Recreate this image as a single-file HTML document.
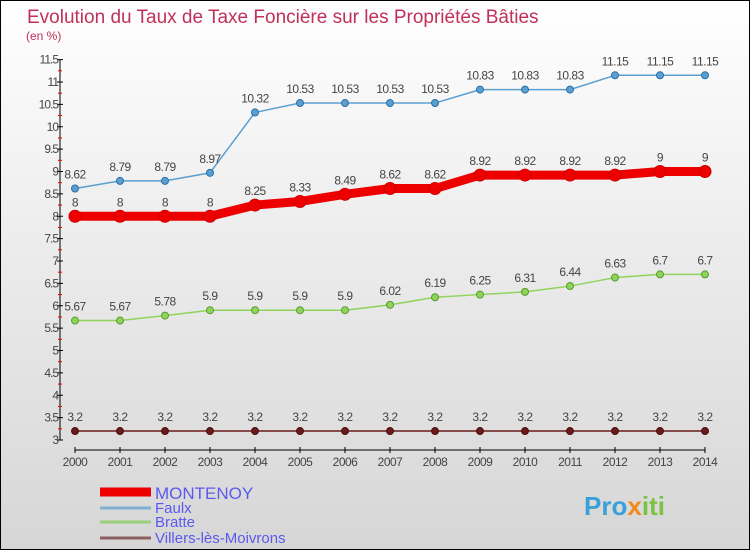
<!DOCTYPE html>
<html><head><meta charset="utf-8"><style>
body{margin:0}
#c{width:750px;height:550px;position:relative;overflow:hidden;background:linear-gradient(#ffffff,#f2f2f2 30%,#d6d6d6);font-family:"Liberation Sans",sans-serif}
svg{position:absolute;left:0;top:0}
</style></head><body>
<div id="c">
<svg id="s" width="750" height="550">
<rect x="0.5" y="0.5" width="749" height="549" fill="none" stroke="#000"/>
<text x="27" y="23" font-size="19" fill="#c0305a">Evolution du Taux de Taxe Foncière sur les Propriétés Bâties</text>
<text x="26" y="40" font-size="12" fill="#c0305a">(en %)</text>
<text x="584" y="515" font-size="26" font-weight="bold" fill="#3aa0d8">Pro<tspan fill="#f08a1e">x</tspan><tspan fill="#7cc242">iti</tspan></text>
</svg>
</div>
<script>
const years=[2000,2001,2002,2003,2004,2005,2006,2007,2008,2009,2010,2011,2012,2013,2014];
const yTicks=[3,3.5,4,4.5,5,5.5,6,6.5,7,7.5,8,8.5,9,9.5,10,10.5,11,11.5];
const montenoy=[8,8,8,8,8.25,8.33,8.49,8.62,8.62,8.92,8.92,8.92,8.92,9,9];
const faulx=[8.62,8.79,8.79,8.97,10.32,10.53,10.53,10.53,10.53,10.83,10.83,10.83,11.15,11.15,11.15];
const bratte=[5.67,5.67,5.78,5.9,5.9,5.9,5.9,6.02,6.19,6.25,6.31,6.44,6.63,6.7,6.7];
const villers=[3.2,3.2,3.2,3.2,3.2,3.2,3.2,3.2,3.2,3.2,3.2,3.2,3.2,3.2,3.2];
const seriesNames=["MONTENOY","Faulx","Bratte","Villers-lès-Moivrons"];
const NS="http://www.w3.org/2000/svg",s=document.getElementById('s');
const X=i=>75+i*45, Y=v=>440-(v-3)*44.75;
function el(t,a,txt){const e=document.createElementNS(NS,t);for(const k in a)e.setAttribute(k,a[k]);if(txt!==undefined)e.textContent=txt;s.appendChild(e);return e;}
let e=el('line',{x1:60,y1:60,x2:60,y2:440,stroke:'#000'});


yTicks.forEach(v=>{
 const t=el('line',{x1:57,x2:63,y1:Y(v),y2:Y(v),stroke:'#000'});
 
 
 const l=el('text',{x:58,y:Y(v)+4,'font-size':12,'text-anchor':'end',fill:'#444','letter-spacing':'-1'},String(v));
 
 
 if(v<11.5){const m=el('line',{x1:58,x2:62,y1:Y(v+0.25),y2:Y(v+0.25),stroke:'#e00'});
 
 }
});
e=el('line',{x1:75,y1:450,x2:705,y2:450,stroke:'#000'});


years.forEach((y,i)=>{
 const t=el('line',{x1:X(i),x2:X(i),y1:447,y2:453,stroke:'#000'});
 
 
 const l=el('text',{x:X(i),y:466,'font-size':12,'text-anchor':'middle',fill:'#444','letter-spacing':'-0.5'},String(y));
 
 
});
function series(d,col,lw,r,name,dark){
 const p=el('polyline',{points:d.map((v,i)=>X(i)+','+Y(v)).join(' '),fill:'none',stroke:col,'stroke-width':lw,'stroke-linejoin':'round'});
 
 
 d.forEach((v,i)=>{
  const c=el('circle',{cx:X(i),cy:Y(v),r:r,fill:col,stroke:dark,'stroke-width':1});
  
  
  const t=el('text',{x:X(i),y:Y(v)-10,'font-size':12,'text-anchor':'middle',fill:'#444','letter-spacing':'-0.5'},String(v));
  
  
 });
}
series(villers,'#6b1a1a',1.5,3.5,'villers','#4a0f0f');
series(bratte,'#8ed45a',1.5,3.5,'bratte','#5a9a30');
series(faulx,'#5a9fd0',1.5,3.5,'faulx','#2a70a8');
series(montenoy,'#ee0000',9,6,'montenoy','#cc0000');
const lc=['#ee0000','#7fb0d0','#9ad07a','#8a6060'],lw=[9,3,3,3];
seriesNames.forEach((n,i)=>{
 const yy=[492,508,522,538][i];
 const l=el('line',{x1:100,x2:151,y1:yy,y2:yy,stroke:lc[i],'stroke-width':lw[i]});
 
 
 const t=el('text',{x:155,y:yy+(i==0?7:5),'font-size':i==0?17:15,fill:'#5a5af0'},n);
 
 
});
</script>
</body></html>
